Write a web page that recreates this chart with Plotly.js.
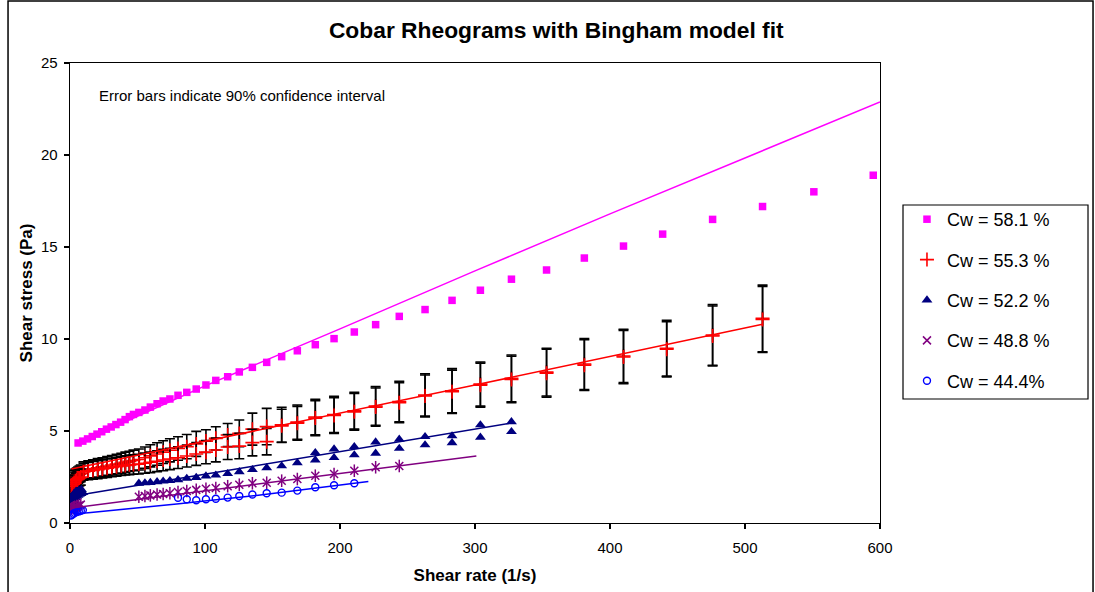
<!DOCTYPE html>
<html>
<head>
<meta charset="utf-8">
<script src="https://cdn.plot.ly/plotly-3.0.1.min.js"></script>
<style>
  html, body { margin: 0; padding: 0; background: #ffffff; }
  #chart { width: 1095px; height: 592px; }
</style>
</head>
<body>
<div id="chart"></div>
<script>
// Cobar tailings rheograms: shear rate (1/s) vs shear stress (Pa) per solids concentration

// Cw = 58.1 %
const rate581 = [6, 9.5, 13, 16.5, 20, 23.5, 27, 30.5, 34, 37.5, 40.8, 44, 47, 51, 55.5, 59.5, 64.5, 69, 74, 80,
  86.5, 93.5, 100.7, 108, 116.8, 125.4, 135.1, 145.7, 156.8, 168.4, 181.7, 195.6, 210.6, 226.4, 243.9, 263, 283,
  304, 327, 353, 381, 410, 439, 476, 513, 551, 595];
const stress581 = [4.35, 4.45, 4.57, 4.7, 4.83, 4.96, 5.1, 5.22, 5.35, 5.48, 5.62, 5.78, 5.9, 6.01, 6.14, 6.3, 6.48,
  6.63, 6.74, 6.94, 7.1, 7.28, 7.5, 7.75, 7.95, 8.21, 8.46, 8.73, 9.04, 9.36, 9.69, 10.02, 10.38, 10.78, 11.23, 11.6,
  12.1, 12.65, 13.25, 13.75, 14.4, 15.05, 15.7, 16.5, 17.2, 18.0, 18.9];
const fitRate581 = [6, 100, 200, 300, 400, 500, 600];
const fitStress581 = [4.35, 7.45, 10.55, 13.7, 16.8, 19.85, 22.88];

// Cw = 55.3 % (two sweeps, each with a 90 % confidence interval)
const rate553 = [1, 2, 3, 4, 5, 6, 7, 8, 10, 13.5, 17, 20.5, 24, 27.5, 31, 34.5, 38, 41, 44, 47, 51, 55.5, 59.5,
  64.5, 69, 74, 80, 86.5, 93.5, 100.7, 108, 116.8, 125.4, 135.1, 145.7, 156.8, 168.4, 181.7, 195.6, 210.6, 226.4,
  243.9, 263, 283, 304, 327, 353, 381, 410, 442, 476, 513];
const stress553a = [2.2, 2.35, 2.45, 2.5, 2.55, 2.6, 2.65, 2.7, 2.85, 2.9, 2.95, 3.0, 3.05, 3.1, 3.15, 3.2, 3.25,
  3.3, 3.35, 3.4, 3.45, 3.55, 3.65, 3.75, 3.85, 3.95, 4.05, 4.15, 4.3, 4.45, 4.6, 4.78, 4.87, 5.1, 5.24, 5.34, 5.48,
  5.76, 5.9, 6.1, 6.36, 6.6, 6.96, 7.19, 7.55, 7.86, 8.2, 8.64, 9.08, 9.5, 10.22, 11.12];
const ci553a = [0.4, 0.42, 0.42, 0.43, 0.43, 0.44, 0.45, 0.45, 0.47, 0.48, 0.49, 0.5, 0.5, 0.51, 0.52, 0.53, 0.54,
  0.55, 0.55, 0.56, 0.57, 0.58, 0.6, 0.61, 0.62, 0.63, 0.64, 0.66, 0.68, 0.62, 0.63, 0.63, 0.73, 0.87, 0.99, 0.95,
  0.93, 0.96, 0.98, 1.0, 1.05, 1.1, 1.15, 1.2, 1.2, 1.27, 1.3, 1.39, 1.45, 1.52, 1.65, 1.81];
const stress553b = [2.0, 2.1, 2.2, 2.3, 2.35, 2.4, 2.45, 2.5, 2.78, 2.82, 2.86, 2.9, 2.94, 2.98, 3.02, 3.06, 3.1,
  3.13, 3.16, 3.18, 3.2, 3.25, 3.3, 3.36, 3.42, 3.48, 3.55, 3.64, 3.75, 3.85, 3.97, 4.13, 4.18, 4.37, 4.42, 5.28,
  5.42, 5.7, 5.84, 6.04, 6.3, 6.54, 6.9, 7.13, 7.49, 7.8, 8.14, 8.58, 9.02, 9.44, 10.16, 11.06];
const ci553b = [0.38, 0.4, 0.4, 0.41, 0.42, 0.42, 0.43, 0.44, 0.46, 0.47, 0.48, 0.49, 0.49, 0.5, 0.5, 0.51, 0.52,
  0.52, 0.53, 0.53, 0.54, 0.55, 0.56, 0.57, 0.58, 0.58, 0.59, 0.6, 0.62, 0.63, 0.65, 0.68, 0.69, 0.72, 0.72, 0.9,
  0.92, 0.95, 0.97, 1.0, 1.04, 1.09, 1.14, 1.18, 1.2, 1.26, 1.3, 1.38, 1.45, 1.5, 1.63, 1.79];
const fitRate553 = [1, 140, 300, 513];
const fitStress553 = [2.93, 5.05, 7.5, 10.8];

// Cw = 52.2 %
const rate522a = [0.7, 1.2, 1.8, 2.5, 3.2, 4, 5, 6, 7, 8.2, 9.5, 51, 55.5, 59.5, 64.5, 69, 74, 80, 86.5, 93.5,
  100.7, 108, 116.8, 125.4, 135.1, 145.7, 156.8, 168.4, 181.7, 195.6, 210.6, 226.4, 243.9, 263, 283, 304, 327];
const stress522a = [0.9, 1.0, 1.1, 1.2, 1.3, 1.38, 1.45, 1.5, 1.55, 1.6, 1.65, 2.16, 2.18, 2.2, 2.24, 2.27, 2.3,
  2.35, 2.42, 2.47, 2.55, 2.6, 2.68, 2.78, 2.9, 3.0, 3.1, 3.27, 3.82, 4.02, 4.15, 4.4, 4.55, 4.69, 4.73, 5.33, 5.5];
const rate522b = [1, 2, 3, 4.5, 6.5, 8.5, 181.7, 195.6, 210.6, 226.4, 243.9, 263, 283, 304, 327];
const stress522b = [1.3, 1.5, 1.6, 1.72, 1.78, 1.82, 3.42, 3.55, 3.7, 3.79, 4.05, 4.24, 4.36, 4.66, 4.96];
const fitRate522 = [1, 13.6, 133.3, 328];
const fitStress522 = [1.48, 1.6, 3.06, 5.45];

// Cw = 48.8 %
const rate488 = [0.7, 1.5, 2.5, 3.5, 5, 6.5, 8, 51, 55.5, 59.5, 64.5, 69, 74, 80, 86.5, 93.5, 100.7, 108, 116.8,
  125.4, 135.1, 145.7, 156.8, 168.4, 181.7, 195.6, 210.6, 226.4, 243.9];
const stress488 = [0.75, 0.8, 0.85, 0.88, 0.92, 0.95, 1.0, 1.43, 1.47, 1.5, 1.55, 1.58, 1.62, 1.68, 1.74, 1.8, 1.86,
  1.9, 2.0, 2.08, 2.16, 2.19, 2.3, 2.39, 2.57, 2.66, 2.84, 3.03, 3.1];
const fitRate488 = [0, 133, 301];
const fitStress488 = [0.8, 2.07, 3.64];

// Cw = 44.4 %
const rate444 = [0.7, 1.5, 2.5, 3.5, 5, 6.5, 8, 9.5, 80, 86.5, 93.5, 100.7, 108, 116.8, 125.4, 135.1, 145.7, 156.8,
  168.4, 181.7, 195.6, 210.6];
const stress444 = [0.4, 0.45, 0.5, 0.55, 0.6, 0.63, 0.66, 0.7, 1.37, 1.29, 1.24, 1.29, 1.32, 1.38, 1.47, 1.55, 1.62,
  1.65, 1.76, 1.94, 2.05, 2.16];
const fitRate444 = [3, 13.6, 79, 141, 221];
const fitStress444 = [0.5, 0.56, 1.03, 1.52, 2.25];

const seriesNames = ['Cw = 58.1 %', 'Cw = 55.3 %', 'Cw = 52.2 %', 'Cw = 48.8 %', 'Cw = 44.4%'];

const FONT = 'Arial, "Liberation Sans", Helvetica, sans-serif';
const MAGENTA = '#FF00FF', RED = '#FF0000', NAVY = '#000080', PURPLE = '#800080', BLUE = '#0000FF';

function fitLine(x, y, color) {
  return { x: x, y: y, type: 'scatter', mode: 'lines', showlegend: false, hoverinfo: 'skip',
           line: { color: color, width: 1.5 } };
}
function ciBars(arr) {
  return { type: 'data', array: arr, visible: true, color: '#000000', thickness: 1.6, width: 5 };
}

const traces = [
  { x: rate581, y: stress581, name: seriesNames[0], legendgroup: 'g1', type: 'scatter', mode: 'markers',
    marker: { symbol: 'square', size: 7.5, color: MAGENTA } },
  { x: rate553, y: stress553a, name: seriesNames[1], legendgroup: 'g2', type: 'scatter', mode: 'markers',
    error_y: ciBars(ci553a),
    marker: { symbol: 'cross-thin-open', size: 10, color: RED, line: { width: 1.6, color: RED } } },
  { x: rate553, y: stress553b, name: seriesNames[1], legendgroup: 'g2', showlegend: false, type: 'scatter',
    mode: 'markers', error_y: ciBars(ci553b),
    marker: { symbol: 'cross-thin-open', size: 10, color: RED, line: { width: 1.6, color: RED } } },
  { x: rate522a, y: stress522a, name: seriesNames[2], legendgroup: 'g3', type: 'scatter', mode: 'markers',
    marker: { symbol: 'triangle-up', size: 9.5, color: NAVY } },
  { x: rate522b, y: stress522b, name: seriesNames[2], legendgroup: 'g3', showlegend: false, type: 'scatter',
    mode: 'markers', marker: { symbol: 'triangle-up', size: 9.5, color: NAVY } },
  { x: rate488, y: stress488, name: seriesNames[3], legendgroup: 'g4', type: 'scatter', mode: 'markers',
    marker: { symbol: 'x-thin-open', size: 8, color: PURPLE, line: { width: 1.5, color: PURPLE } } },
  { x: rate488, y: stress488, name: seriesNames[3], legendgroup: 'g4', showlegend: false, type: 'scatter',
    mode: 'markers',
    marker: { symbol: 'line-ns-open', size: 9, color: PURPLE, line: { width: 1.5, color: PURPLE } } },
  { x: rate444, y: stress444, name: seriesNames[4], legendgroup: 'g5', type: 'scatter', mode: 'markers',
    marker: { symbol: 'circle-open', size: 7, color: BLUE, line: { width: 1.4, color: BLUE } } },
  // Bingham model fits
  fitLine(fitRate581, fitStress581, MAGENTA),
  fitLine(fitRate553, fitStress553, RED),
  fitLine(fitRate522, fitStress522, NAVY),
  fitLine(fitRate488, fitStress488, PURPLE),
  fitLine(fitRate444, fitStress444, BLUE)
];

const axisCommon = {
  showgrid: false, zeroline: false, showline: true, linecolor: '#000000', linewidth: 1.3, mirror: true,
  ticks: 'outside', ticklen: 5, tickwidth: 1.2, tickcolor: '#000000',
  tickfont: { family: FONT, size: 15, color: '#000000' }
};

const layout = {
  width: 1095, height: 592,
  margin: { l: 70, r: 215, t: 63, b: 69, pad: 0 },
  paper_bgcolor: '#ffffff', plot_bgcolor: '#ffffff',
  font: { family: FONT, color: '#000000' },
  title: { text: '<b>Cobar Rheograms with Bingham model fit</b>', x: 0.508, xref: 'container', xanchor: 'center',
           y: 0.949, yref: 'container', yanchor: 'middle',
           font: { family: FONT, size: 22.8, color: '#000000' } },
  xaxis: Object.assign({}, axisCommon, {
    range: [0, 600], tick0: 0, dtick: 100, ticklabelstandoff: 6,
    title: { text: '<b>Shear rate (1/s)</b>', standoff: 13, font: { family: FONT, size: 17, color: '#000000' } }
  }),
  yaxis: Object.assign({}, axisCommon, {
    range: [0, 25], tick0: 0, dtick: 5, ticklabelstandoff: 3,
    title: { text: '<b>Shear stress (Pa)</b>', standoff: 4, font: { family: FONT, size: 17, color: '#000000' } }
  }),
  showlegend: true,
  legend: {
    x: 1.0333, y: 0.700, xref: 'paper', yref: 'paper', xanchor: 'left', yanchor: 'top',
    bgcolor: 'rgba(0,0,0,0)', borderwidth: 0, tracegroupgap: 14, traceorder: 'grouped',
    font: { family: FONT, size: 18, color: '#000000' }
  },
  shapes: [
    // chart frame
    { type: 'rect', xref: 'paper', yref: 'paper', x0: -0.0765, x1: 1.2630, y0: -0.20, y1: 1.1348,
      line: { color: '#000000', width: 1.5 }, fillcolor: 'rgba(0,0,0,0)', layer: 'below' },
    // legend box
    { type: 'rect', xref: 'paper', yref: 'paper', x0: 1.0284, x1: 1.2568, y0: 0.2696, y1: 0.6913,
      line: { color: '#000000', width: 1.2 }, fillcolor: '#ffffff', layer: 'below' }
  ],
  annotations: [
    { text: 'Error bars indicate 90% confidence interval', xref: 'paper', yref: 'paper', x: 0.0333, y: 0.930,
      xanchor: 'left', yanchor: 'middle', showarrow: false, font: { family: FONT, size: 15, color: '#000000' } }
  ]
};

Plotly.newPlot('chart', traces, layout, { displayModeBar: false, staticPlot: true });
</script>
</body>
</html>
